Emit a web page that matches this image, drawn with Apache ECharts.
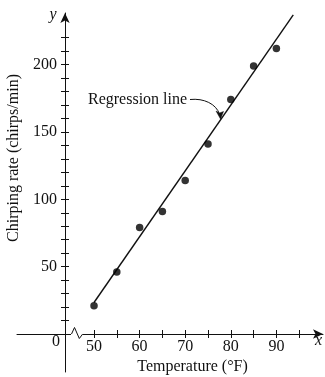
<!DOCTYPE html>
<html>
<head>
<meta charset="utf-8">
<script src="https://cdn.jsdelivr.net/npm/echarts@6/dist/echarts.min.js"></script>
<style>
html,body{margin:0;padding:0;background:#fff;}
#chart{width:325px;height:377px;}
</style>
</head>
<body>
<div id="chart"></div>
<script>
// Data
const temperatures = [50, 55, 60, 65, 70, 75, 80, 85, 90];
const chirpRates = [21, 46, 79, 91, 114, 141, 174, 199, 212];
const regressionT = [50, 93.7];
const regressionC = [23.4, 236.9];
const xTickValues = [50, 55, 60, 65, 70, 75, 80, 85, 90, 95];
const xLabelValues = [50, 60, 70, 80, 90];
const yTickValues = [10, 20, 30, 40, 50, 60, 70, 80, 90, 100, 110, 120, 130, 140, 150, 160, 170, 180, 190, 200, 210, 220];
const yLabelValues = [50, 100, 150, 200];

const INK = '#111';
const FONT = '"Liberation Serif", "DejaVu Serif", serif';

const chart = echarts.init(document.getElementById('chart'), null, {renderer: 'canvas'});

const xBase = {
  type: 'value', min: 33.11, max: 100.22, position: 'bottom',
  splitLine: {show: false}
};
const yBase = {
  type: 'value', min: -28.2, max: 238.3, position: 'left', offset: -48,
  splitLine: {show: false}
};

chart.setOption({
  animation: false,
  backgroundColor: '#fff',
  grid: {left: 17, right: 2, top: 13, bottom: 5, containLabel: false, outerBoundsMode: 'none'},
  xAxis: [
    Object.assign({}, xBase, {
      axisLine: {show: true, onZero: true, symbol: ['none', 'arrow'], symbolSize: [7, 10], lineStyle: {color: INK, width: 1}},
      axisTick: {show: true, customValues: xTickValues, length: 4, lineStyle: {color: INK, width: 1}},
      axisLabel: {show: true, customValues: xLabelValues, margin: -33.5, color: INK, fontFamily: FONT, fontSize: 16}
    }),
    Object.assign({}, xBase, {
      axisLine: {show: false, onZero: true},
      axisTick: {show: true, inside: true, customValues: xTickValues, length: 4, lineStyle: {color: INK, width: 1}},
      axisLabel: {show: false}
    })
  ],
  yAxis: [
    Object.assign({}, yBase, {
      axisLine: {show: true, onZero: false, symbol: ['none', 'arrow'], symbolSize: [7, 10], lineStyle: {color: INK, width: 1}},
      axisTick: {show: true, customValues: yTickValues, length: 4, lineStyle: {color: INK, width: 1}},
      axisLabel: {show: true, customValues: yLabelValues, margin: 8, color: INK, fontFamily: FONT, fontSize: 16}
    }),
    Object.assign({}, yBase, {
      axisLine: {show: false, onZero: false},
      axisTick: {show: true, inside: true, customValues: yTickValues, length: 4, lineStyle: {color: INK, width: 1}},
      axisLabel: {show: false}
    })
  ],
  series: [
    {
      type: 'line',
      xAxisIndex: 0, yAxisIndex: 0,
      data: regressionT.map((t, i) => [t, regressionC[i]]),
      showSymbol: false,
      symbol: 'none',
      lineStyle: {color: INK, width: 1.4},
      z: 3
    },
    {
      type: 'scatter',
      xAxisIndex: 0, yAxisIndex: 0,
      data: temperatures.map((t, i) => [t, chirpRates[i]]),
      symbol: 'circle',
      symbolSize: 7.5,
      itemStyle: {color: '#000'},
      z: 4
    }
  ],
  graphic: [
    // axis break
    {type: 'rect', shape: {x: 71, y: 330, width: 12, height: 7}, style: {fill: '#fff'}, z: 100},
    {type: 'polyline', shape: {points: [[71.5, 334], [74.5, 327.5], [79.3, 338.5], [82.7, 334]]}, style: {stroke: INK, lineWidth: 1, fill: null}, z: 101},
    // axis letters
    {type: 'text', style: {text: '0', x: 56, y: 342, align: 'center', verticalAlign: 'middle', font: '16px ' + FONT, fill: INK}, z: 101},
    {type: 'text', style: {text: 'y', x: 53, y: 15, align: 'center', verticalAlign: 'middle', font: 'italic 16px ' + FONT, fill: INK}, z: 101},
    {type: 'text', style: {text: 'x', x: 318.5, y: 341, align: 'center', verticalAlign: 'middle', font: 'italic 16px ' + FONT, fill: INK}, z: 101},
    // axis titles
    {type: 'text', style: {text: 'Temperature (°F)', x: 192.5, y: 367, align: 'center', verticalAlign: 'middle', font: '16px ' + FONT, fill: INK}, z: 101},
    {type: 'text', x: 14, y: 158, rotation: Math.PI / 2, style: {text: 'Chirping rate (chirps/min)', x: 0, y: 0, align: 'center', verticalAlign: 'middle', font: '16px ' + FONT, fill: INK}, z: 101},
    // regression annotation
    {type: 'text', style: {text: 'Regression line', x: 88, y: 100, align: 'left', verticalAlign: 'middle', font: '16px ' + FONT, fill: INK}, z: 101},
    {type: 'bezierCurve', shape: {x1: 190, y1: 99.5, x2: 219.5, y2: 114, cpx1: 204, cpy1: 98, cpx2: 216, cpy2: 104}, style: {stroke: INK, lineWidth: 1, fill: null}, z: 101},
    {type: 'polygon', shape: {points: [[220.5, 119], [216, 111], [219.5, 113], [223.5, 111.5]]}, style: {fill: INK, stroke: INK, lineWidth: 0.5}, z: 101}
  ]
});
</script>
</body>
</html>
